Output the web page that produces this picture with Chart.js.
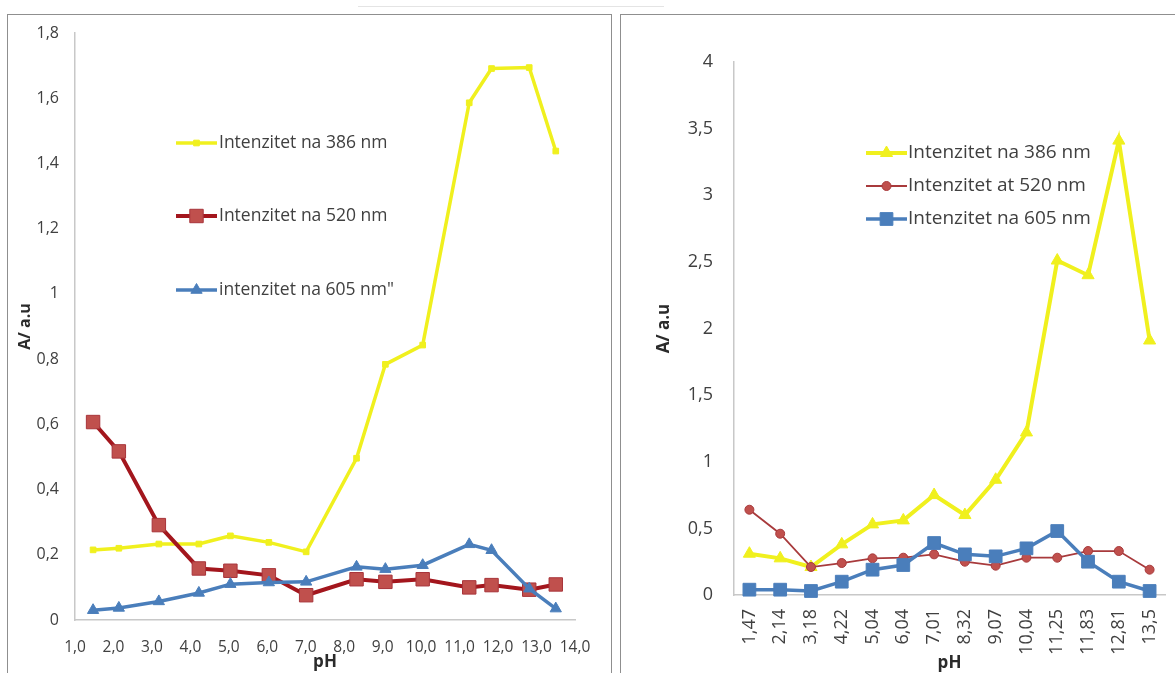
<!DOCTYPE html>
<html>
<head>
<meta charset="utf-8">
<script src="https://cdn.jsdelivr.net/npm/chart.js@4.4.1/dist/chart.umd.min.js"></script>
<style>
  html, body { margin: 0; padding: 0; background: #fff; width: 1175px; height: 673px; overflow: hidden; }
  .panel { position: absolute; border: 1.5px solid #8f8f8f; box-sizing: border-box; }
  #p1 { left: 7px; top: 14px; width: 605px; height: 700px; }
  #p2 { left: 620px; top: 14px; width: 620px; height: 700px; }
  #faint { position: absolute; left: 358px; top: 6px; width: 306px; height: 0; border-top: 1px solid #e4e4e4; }
  canvas { position: absolute; }
  #c1 { left: 7px; top: 14px; }
  #c2 { left: 620px; top: 14px; }
</style>
</head>
<body>
<div id="faint"></div>
<div class="panel" id="p1"></div>
<div class="panel" id="p2"></div>
<canvas id="c1" width="604" height="659"></canvas>
<canvas id="c2" width="555" height="659"></canvas>
<script>
'use strict';

// ── Data ──────────────────────────────────────────────────────
const PH_VALUES = [1.47, 2.14, 3.18, 4.22, 5.04, 6.04, 7.01, 8.32, 9.07, 10.04, 11.25, 11.83, 12.81, 13.5];
const PH_LABELS = ['1,47', '2,14', '3,18', '4,22', '5,04', '6,04', '7,01', '8,32', '9,07', '10,04', '11,25', '11,83', '12,81', '13,5'];

// left chart (scatter on pH)
const LEFT_NAMES = ['Intenzitet na 386 nm', 'Intenzitet na 520 nm', 'intenzitet na 605 nm"'];
const LEFT_386 = [0.215, 0.22, 0.233, 0.233, 0.258, 0.238, 0.209, 0.496, 0.784, 0.843, 1.586, 1.691, 1.694, 1.438];
const LEFT_520 = [0.607, 0.517, 0.291, 0.158, 0.151, 0.137, 0.076, 0.125, 0.117, 0.125, 0.100, 0.107, 0.093, 0.109];
const LEFT_605 = [0.030, 0.037, 0.057, 0.083, 0.110, 0.115, 0.117, 0.163, 0.156, 0.168, 0.232, 0.214, 0.096, 0.035];

// right chart (category axis)
const RIGHT_NAMES = ['Intenzitet na 386 nm', 'Intenzitet at 520 nm', 'Intenzitet na 605 nm'];
const RIGHT_386 = [0.31, 0.275, 0.21, 0.38, 0.53, 0.56, 0.75, 0.60, 0.865, 1.22, 2.51, 2.40, 3.41, 1.91];
const RIGHT_520 = [0.64, 0.46, 0.21, 0.24, 0.275, 0.28, 0.305, 0.25, 0.22, 0.28, 0.28, 0.33, 0.33, 0.19];
const RIGHT_605 = [0.04, 0.04, 0.03, 0.10, 0.19, 0.225, 0.39, 0.305, 0.29, 0.35, 0.48, 0.25, 0.10, 0.03];

// ── Theme ─────────────────────────────────────────────────────
const FONT = "'Open Sans', sans-serif";
const C = {
  yellow:   '#f0f01e',
  red:      '#a3161d',
  redFill:  '#c0504d',
  redThin:  '#a83a3c',
  blue:     '#4a7ebb',
  axis:     '#c8c8c8',
  text:     '#404040',
  title:    '#2b2b2b',
};

const comma = v => String(+Number(v).toFixed(2)).replace('.', ',');
const toPoints = ys => ys.map((y, i) => ({ x: PH_VALUES[i], y }));

// legend drawn inside the plot area, like the Excel original
const insideLegend = {
  id: 'insideLegend',
  afterDatasetsDraw(chart, args, opts) {
    const { ctx } = chart;
    chart.data.datasets.forEach((ds, i) => {
      const y = opts.rows[i];
      ctx.save();
      ctx.strokeStyle = ds.borderColor;
      ctx.lineWidth = ds.borderWidth;
      ctx.beginPath();
      ctx.moveTo(opts.x1, y);
      ctx.lineTo(opts.x2, y);
      ctx.stroke();
      ctx.fillStyle = ds.pointBackgroundColor;
      ctx.strokeStyle = ds.pointBorderColor;
      ctx.lineWidth = ds.pointBorderWidth;
      Chart.helpers.drawPoint(ctx, {
        pointStyle: ds.pointStyle, radius: ds.pointRadius,
        borderWidth: ds.pointBorderWidth, rotation: 0,
      }, (opts.x1 + opts.x2) / 2, y);
      ctx.fillStyle = C.text;
      ctx.font = opts.font;
      ctx.textBaseline = 'middle';
      ctx.textAlign = 'left';
      ctx.fillText(ds.label, opts.textX, y);
      ctx.restore();
    });
  },
};

function series(label, data, color, width, style, radius, fill, border, order) {
  return {
    label, data, order,
    borderColor: color,
    borderWidth: width,
    pointStyle: style,
    pointRadius: radius,
    pointHoverRadius: radius,
    pointBackgroundColor: fill,
    pointBorderColor: border,
    pointBorderWidth: 1,
    tension: 0,
    clip: false,
  };
}

// ── Left chart ────────────────────────────────────────────────
new Chart(document.getElementById('c1'), {
  type: 'line',
  data: {
    datasets: [
      series(LEFT_NAMES[0], toPoints(LEFT_386), C.yellow, 3.5, 'rect', 4, C.yellow, C.yellow, 2),
      series(LEFT_NAMES[1], toPoints(LEFT_520), C.red, 4, 'rect', 9.5, C.redFill, '#a8343a', 1),
      series(LEFT_NAMES[2], toPoints(LEFT_605), C.blue, 3.5, 'triangle', 6.5, C.blue, C.blue, 0),
    ],
  },
  options: {
    responsive: false,
    animation: false,
    layout: { padding: { left: 0, right: 36, top: 19, bottom: 0 } },
    scales: {
      x: {
        type: 'linear', min: 1, max: 14,
        grid: { display: false, drawTicks: false },
        border: { display: true, color: C.axis, width: 1.5 },
        ticks: {
          stepSize: 1, autoSkip: false, maxRotation: 0, padding: 18,
          color: C.text, font: { family: FONT, size: 15.5 },
          callback: v => Number(v).toFixed(1).replace('.', ','),
        },
        title: {
          display: true, text: 'pH', color: C.title,
          font: { family: FONT, size: 17, weight: 'bold' },
          padding: { top: 0, bottom: 1 },
        },
        afterFit: s => { s.height = 53; },
      },
      y: {
        min: 0, max: 1.8,
        grid: { display: false, drawTicks: false },
        border: { display: true, color: C.axis, width: 1.5 },
        ticks: {
          stepSize: 0.2, padding: 16,
          color: C.text, font: { family: FONT, size: 16 },
          callback: comma,
        },
        title: {
          display: true, text: 'A/ a.u', color: C.title,
          font: { family: FONT, size: 16, weight: 'bold' },
          padding: { top: 9, bottom: 0 },
        },
        afterFit: s => { s.width = 68; s.paddingTop = 0; s.paddingBottom = 0; },
      },
    },
    plugins: {
      legend: { display: false },
      tooltip: { enabled: false },
      insideLegend: { rows: [129, 202, 276], x1: 169, x2: 210, textX: 212, font: `17.5px ${FONT}` },
    },
  },
  plugins: [insideLegend],
});

// ── Right chart ───────────────────────────────────────────────
new Chart(document.getElementById('c2'), {
  type: 'line',
  data: {
    labels: PH_LABELS,
    datasets: [
      series(RIGHT_NAMES[0], RIGHT_386, C.yellow, 4, 'triangle', 7, C.yellow, C.yellow, 2),
      series(RIGHT_NAMES[1], RIGHT_520, C.redThin, 1.8, 'circle', 4.5, C.redFill, '#a83a3c', 1),
      series(RIGHT_NAMES[2], RIGHT_605, C.blue, 3.5, 'rect', 9, C.blue, C.blue, 0),
    ],
  },
  options: {
    responsive: false,
    animation: false,
    layout: { padding: { left: 0, right: 0, top: 48, bottom: 0 } },
    scales: {
      x: {
        type: 'category', offset: true,
        grid: { display: false, drawTicks: false, offset: true },
        border: { display: true, color: C.axis, width: 1.5 },
        ticks: {
          autoSkip: false, minRotation: 90, maxRotation: 90, padding: 14,
          color: C.text, font: { family: FONT, size: 18 },
        },
        title: {
          display: true, text: 'pH', color: C.title,
          font: { family: FONT, size: 17, weight: 'bold' },
          padding: { top: 0, bottom: 0 },
        },
        afterFit: s => { s.height = 78; s.paddingLeft = 0; s.paddingRight = 0; },
      },
      y: {
        min: 0, max: 4,
        grid: { display: false, drawTicks: false },
        border: { display: true, color: C.axis, width: 1.5 },
        ticks: {
          stepSize: 0.5, padding: 21,
          color: C.text, font: { family: FONT, size: 18 },
          callback: comma,
        },
        title: {
          display: true, text: 'A/ a.u', color: C.title,
          font: { family: FONT, size: 17, weight: 'bold' },
          padding: { top: 34, bottom: 0 },
        },
        afterFit: s => { s.width = 114; s.paddingTop = 0; s.paddingBottom = 0; },
      },
    },
    plugins: {
      legend: { display: false },
      tooltip: { enabled: false },
      insideLegend: { rows: [139, 172, 205], x1: 246, x2: 287, textX: 288, font: `19px ${FONT}` },
    },
  },
  plugins: [insideLegend],
});
</script>
</body>
</html>
